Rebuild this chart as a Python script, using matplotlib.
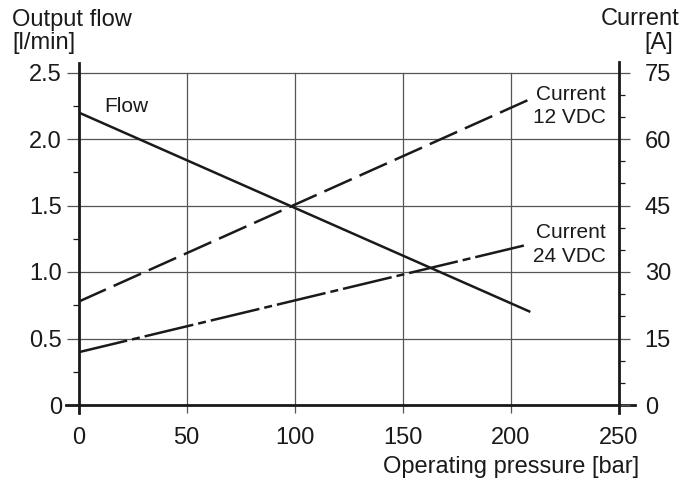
import matplotlib
matplotlib.use("Agg")
import matplotlib.pyplot as plt
from matplotlib.ticker import MultipleLocator

plt.rcParams["font.family"] = ["Liberation Sans", "DejaVu Sans"]

# pump characteristic: flow falls, current rises with pressure
pressure_flow = [0, 209]
flow = [2.2, 0.7]
pressure_current = [0, 208]
current_12vdc = [23.3, 68.8]
current_24vdc = [11.9, 36.2]

x_ticks = [0, 50, 100, 150, 200, 250]
flow_ticks = [0, 0.5, 1.0, 1.5, 2.0, 2.5]
flow_tick_labels = ["0", "0.5", "1.0", "1.5", "2.0", "2.5"]
current_ticks = [0, 15, 30, 45, 60, 75]

W, H = 695, 482
fig = plt.figure(figsize=(W / 100, H / 100), dpi=100)
ax = fig.add_axes([78.5 / W, 1 - 405 / H, (619 - 78.5) / W, (405 - 72.5) / H])
ax2 = ax.twinx()

ink = "#1a1a1a"
grid_c = "#555555"

ax.set_xlim(0, 250)
ax.set_ylim(0, 2.5)
ax2.set_ylim(0, 75)

ax.set_xticks(x_ticks)
ax.set_yticks(flow_ticks)
ax.set_yticklabels(flow_tick_labels)
ax.yaxis.set_minor_locator(MultipleLocator(0.25))
ax2.set_yticks(current_ticks)
ax2.yaxis.set_minor_locator(MultipleLocator(5))

ax.grid(True, color=grid_c, linewidth=0.9, clip_on=False)
for gl in ax.get_xgridlines() + ax.get_ygridlines():
    gl.set_clip_on(False)

for a in (ax, ax2):
    for s in ("top",):
        a.spines[s].set_visible(False)
ax.spines["right"].set_visible(False)
ax2.spines["left"].set_visible(False)
ax2.spines["bottom"].set_visible(False)

for name, a in (("left", ax), ("right", ax2)):
    sp = a.spines[name]
    sp.set_linewidth(2.0)
    sp.set_color(ink)
    sp.set_clip_on(False)
ax.spines["left"].set_bounds(-0.06, 2.575)
ax2.spines["right"].set_bounds(-1.8, 77.3)
ax.spines["bottom"].set_linewidth(2.0)
ax.spines["bottom"].set_color(ink)
ax.spines["bottom"].set_bounds(-5.7, 257.5)
ax.spines["bottom"].set_clip_on(False)

ax.tick_params(axis="y", which="major", direction="out", length=8.5, width=0.9,
               color=grid_c, labelsize=17, pad=3.5, labelcolor=ink)
ax.tick_params(axis="y", which="minor", direction="out", length=4, width=0.9, color=ink)
ax.tick_params(axis="x", which="major", direction="out", length=5.8, width=0.9,
               color=grid_c, labelsize=17, pad=10, labelcolor=ink)
ax2.tick_params(axis="y", which="major", direction="out", length=8, width=0.9,
                color=grid_c, labelsize=17, pad=10.5, labelcolor=ink)
ax2.tick_params(axis="y", which="minor", direction="out", length=4.3, width=0.9, color=ink)

lw = 1.8
ax.plot(pressure_flow, flow, color=ink, linewidth=lw, solid_capstyle="butt")
ax2.plot(pressure_current, current_12vdc, color=ink, linewidth=lw,
         linestyle=(0, (12, 3.4)), dash_capstyle="butt")
ax2.plot(pressure_current, current_24vdc, color=ink, linewidth=lw,
         linestyle=(0, (20, 2, 3.2, 2)), dash_capstyle="butt")

# in-plot curve labels
ax.text(11.8, 2.203, "Flow", fontsize=15, color=ink, va="baseline", ha="left")
ax.text(243.9, 2.293, "Current", fontsize=15, color=ink, va="baseline", ha="right")
ax.text(243.9, 2.120, "12 VDC", fontsize=15, color=ink, va="baseline", ha="right")
ax.text(243.9, 1.253, "Current", fontsize=15, color=ink, va="baseline", ha="right")
ax.text(243.9, 1.077, "24 VDC", fontsize=15, color=ink, va="baseline", ha="right")


def px(x, y):
    return x / W, 1 - y / H


fig.text(*px(12, 26), "Output flow", fontsize=17, color=ink, ha="left", va="baseline")
fig.text(*px(12, 48.5), "[l/min]", fontsize=17, color=ink, ha="left", va="baseline")
fig.text(*px(679, 25), "Current", fontsize=17, color=ink, ha="right", va="baseline")
fig.text(*px(673, 49), "[A]", fontsize=17, color=ink, ha="right", va="baseline")
fig.text(*px(639, 473), "Operating pressure [bar]", fontsize=17, color=ink,
         ha="right", va="baseline")

fig.savefig("out.png", dpi=100)
